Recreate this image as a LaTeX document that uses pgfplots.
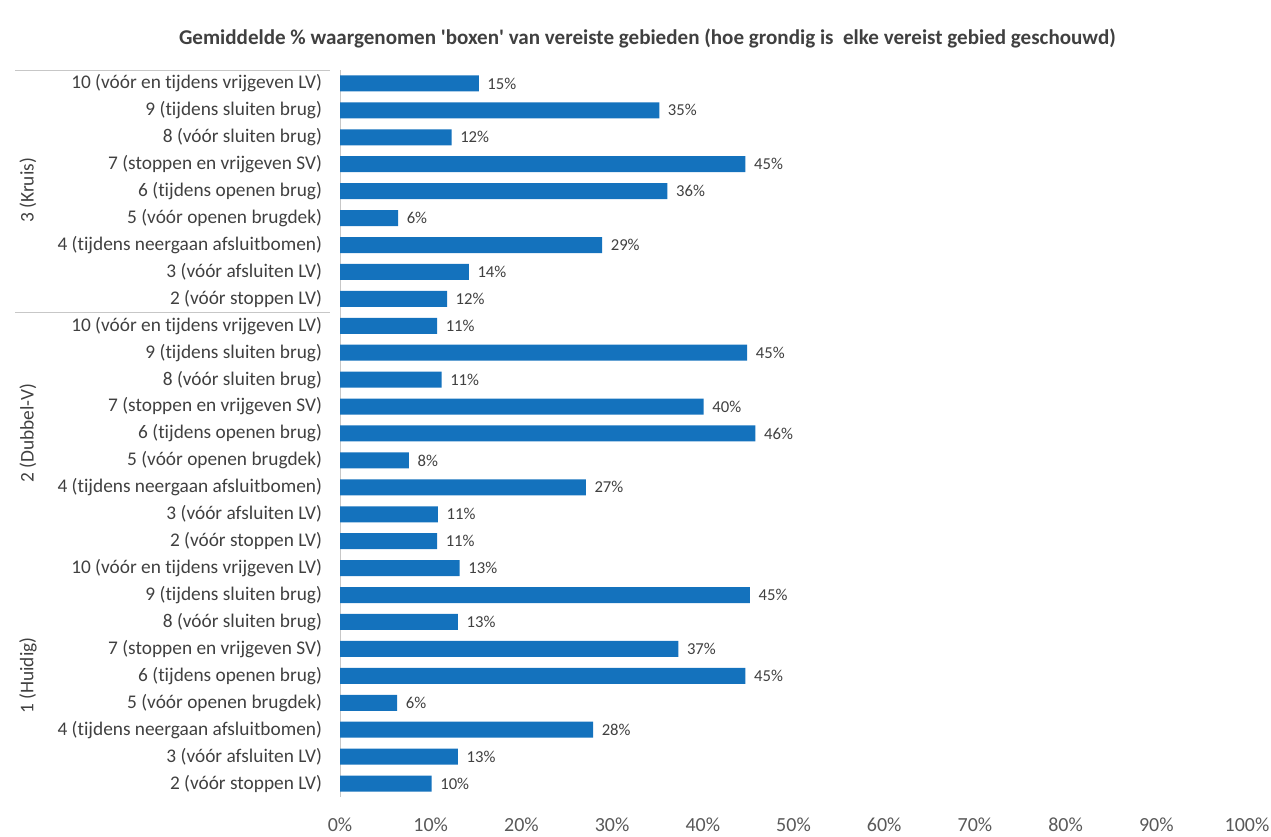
\documentclass[border=0pt]{standalone}
\usepackage{pgfplots}
\pgfplotsset{compat=1.18}
\usepackage{fontspec}
\setmainfont{Carlito}[Ligatures={NoCommon}]
\definecolor{barblue}{RGB}{20,114,189}
\definecolor{txt}{RGB}{64,64,64}
\definecolor{ticktxt}{RGB}{89,89,89}
\begin{document}
\begin{tikzpicture}[x=1pt,y=1pt]
\useasboundingbox (0,0) rectangle (953.25,627.75);
\begin{axis}[
  at={(255pt,30pt)}, anchor=south west,
  scale only axis, width=680.25pt, height=545.25pt,
  xbar, bar width=12pt,
  xmin=0, xmax=100, ymin=-0.5, ymax=26.5,
  axis lines*=left,
  x axis line style={draw=none},
  y axis line style={draw=black!22},
  major tick length=0pt,
  /pgf/number format/assume math mode=true,
  xtick={0,10,...,100},
  xticklabels={0\%,10\%,20\%,30\%,40\%,50\%,60\%,70\%,80\%,90\%,100\%},
  xticklabel style={font=\fontsize{15}{15}\selectfont, text=ticktxt, yshift=-12pt},
  ytick={0,...,26},
  yticklabels={
    2 (vóór stoppen LV),3 (vóór afsluiten LV),4 (tijdens neergaan afsluitbomen),5 (vóór openen brugdek),6 (tijdens openen brug),7 (stoppen en vrijgeven SV),8 (vóór sluiten brug),9 (tijdens sluiten brug),10 (vóór en tijdens vrijgeven LV),
    2 (vóór stoppen LV),3 (vóór afsluiten LV),4 (tijdens neergaan afsluitbomen),5 (vóór openen brugdek),6 (tijdens openen brug),7 (stoppen en vrijgeven SV),8 (vóór sluiten brug),9 (tijdens sluiten brug),10 (vóór en tijdens vrijgeven LV),
    2 (vóór stoppen LV),3 (vóór afsluiten LV),4 (tijdens neergaan afsluitbomen),5 (vóór openen brugdek),6 (tijdens openen brug),7 (stoppen en vrijgeven SV),8 (vóór sluiten brug),9 (tijdens sluiten brug),10 (vóór en tijdens vrijgeven LV)},
  yticklabel style={font=\fontsize{14.5}{14.5}\selectfont, text=txt, xshift=-10pt},
  point meta=x,
  nodes near coords={\pgfmathprintnumber[fixed,precision=0,assume math mode=true]{\pgfplotspointmeta}\%},
  nodes near coords style={font=\fontsize{12.5}{12.5}\selectfont, text=txt, anchor=west, xshift=3pt},
  clip=false,
]
\addplot[draw=none, fill=barblue] coordinates {
 (10.1,0) (13.0,1) (27.9,2) (6.3,3) (44.7,4) (37.3,5) (13.0,6) (45.2,7) (13.2,8)
 (10.7,9) (10.8,10) (27.1,11) (7.6,12) (45.8,13) (40.1,14) (11.2,15) (44.9,16) (10.7,17)
 (11.8,18) (14.2,19) (28.9,20) (6.4,21) (36.1,22) (44.7,23) (12.3,24) (35.2,25) (15.3,26)
};
\end{axis}
\draw[black!22] (11.25,575.25) -- (247.5,575.25);
\draw[black!22] (11.25,393.9) -- (247.5,393.9);
\node[rotate=90, font=\fontsize{14.5}{14.5}\selectfont, text=txt] at (21,485) {3 (Kruis)};
\node[rotate=90, font=\fontsize{14.5}{14.5}\selectfont, text=txt] at (21,303) {2 (Dubbel-V)};
\node[rotate=90, font=\fontsize{14.5}{14.5}\selectfont, text=txt] at (21,121) {1 (Huidig)};
\node[font=\bfseries\fontsize{15.8}{15.8}\selectfont, text=txt] at (485.6,599.25) {Gemiddelde \% waargenomen \textquotesingle boxen\textquotesingle{} van vereiste gebieden (hoe grondig is\ \ elke vereist gebied geschouwd)};
\end{tikzpicture}
\end{document}
